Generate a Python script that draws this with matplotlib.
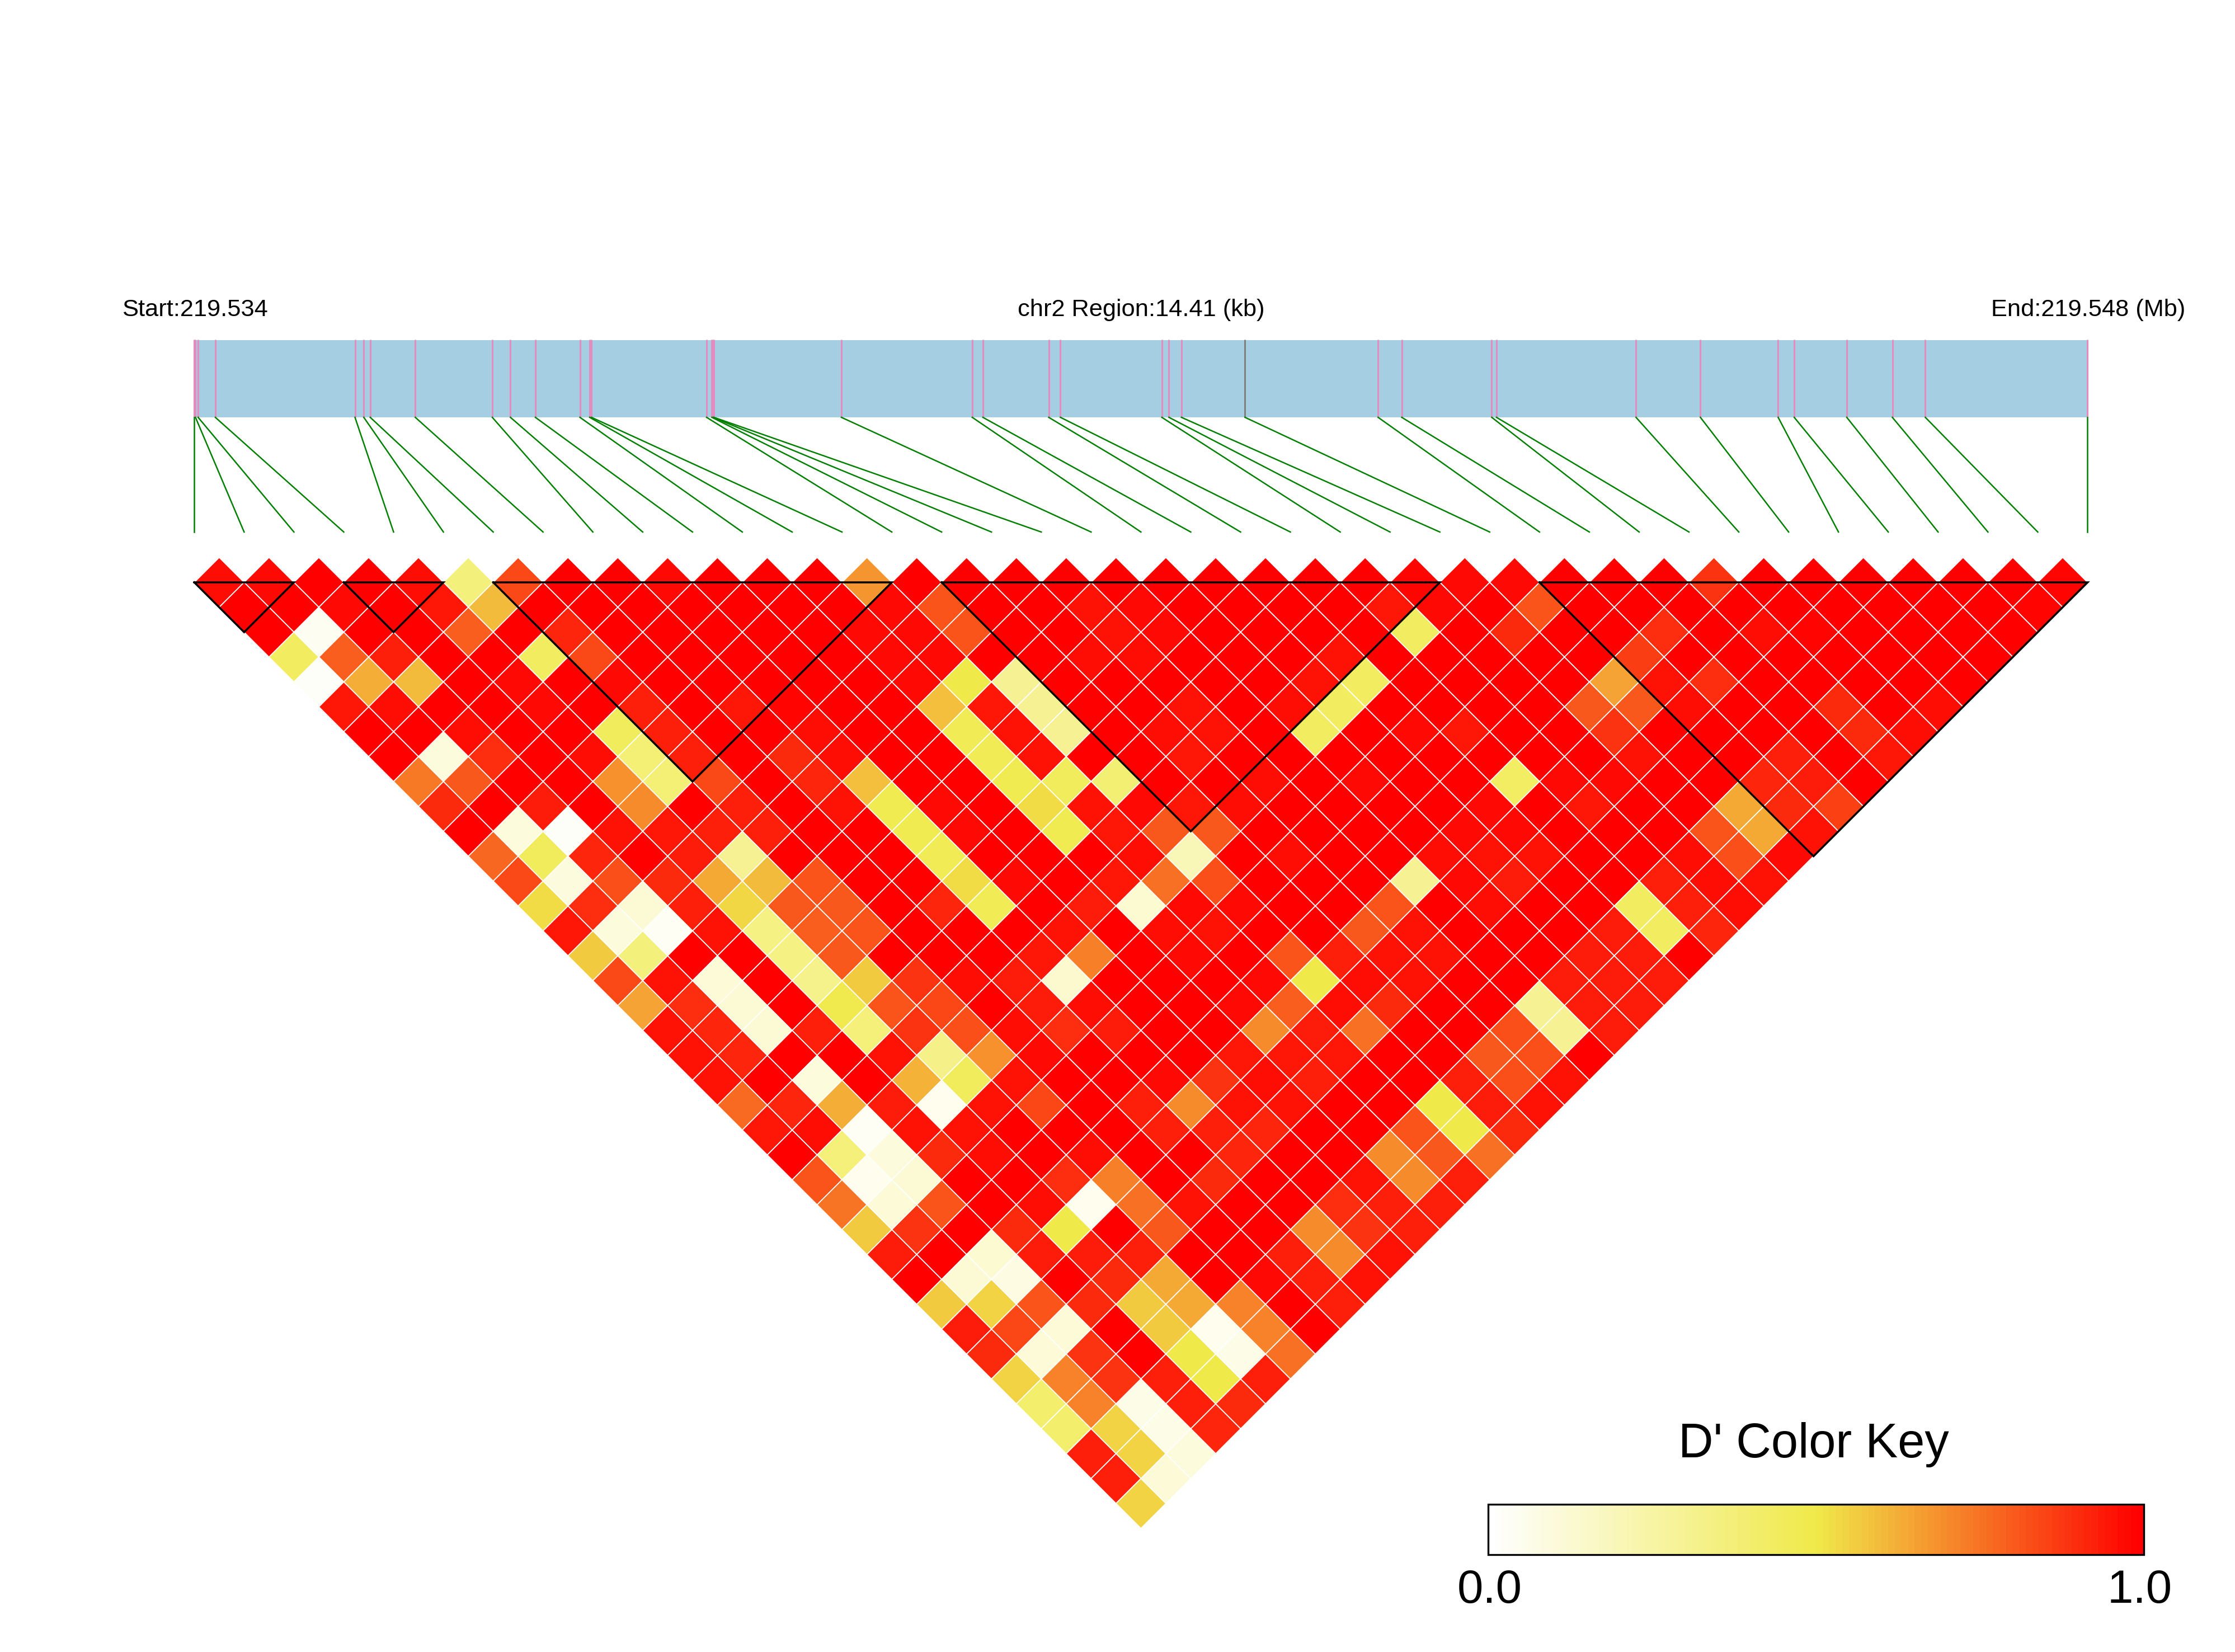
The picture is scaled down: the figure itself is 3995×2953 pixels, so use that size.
### PACKAGES

import numpy as np
import matplotlib
matplotlib.use('Agg')
import matplotlib.pyplot as plt
from matplotlib.collections import PolyCollection
from matplotlib.colors import LinearSegmentedColormap
from matplotlib.patches import Rectangle

plt.rcParams['font.family'] = ['Liberation Sans', 'DejaVu Sans']

### DATA

region_kb = 14.41
start_label = 'Start:219.534'
mid_label = 'chr2 Region:14.41 (kb)'
end_label = 'End:219.548 (Mb)'
key_title = "D' Color Key"
key_ticks = ['0.0', '1.0']

# snp positions in kb from the region start
snp_kb = [0.000, 0.009, 0.029, 0.160, 1.223, 1.290, 1.339, 1.682, 2.268, 2.406,
          2.596, 2.935, 3.009, 3.023, 3.899, 3.939, 3.948, 3.955, 4.925, 5.921,
          6.002, 6.503, 6.592, 7.364, 7.418, 7.513, 7.997, 9.010, 9.190, 9.875,
          9.911, 10.973, 11.463, 12.055, 12.177, 12.577, 12.924, 13.175, 14.410]
grey_snp = 26  # this one is drawn grey in the bar

# haplotype blocks, first and last snp
blocks = [(0, 2), (3, 5), (6, 14), (15, 25), (27, 38)]

# D' values, one list per distance between the two snps
d1 = [.97, .98, 1, 1, .97, .36, .84, 1, 1, .98, 1, 1, 1, .68, 1, 1, 1, 1, 1, 1, 1, 1, 1, 1, .99, .98, .98, 1, 1, 1, .89, 1, 1, 1, 1, 1, 1, .99]
d2 = [1, 1, .98, 1, .95, .6, 1, 1, 1, 1, 1, 1, 1, .98, .82, 1, 1, .96, .98, 1, 1, 1, 1, .95, .98, 1, .82, 1, 1, 1, 1, 1, 1, 1, 1, 1, .99]
d3 = [1, .04, 1, 1, .8, 1, .92, 1, 1, 1, 1, 1, .98, .98, .82, 1, 1, .96, .98, 1, 1, 1, 1, .44, 1, .91, 1, 1, .9, 1, .97, .99, 1, 1, 1, 1]
d4 = [.44, .8, .93, 1, 1, .44, .84, 1, 1, 1, 1, 1, .98, .98, 1, 1, .97, .97, 1, 1, 1, .96, 1, 1, 1, 1, 1, .87, 1, 1, 1, 1, 1, 1, 1]
d5 = [.02, .63, .6, 1, .98, 1, .98, 1, 1, 1, 1, 1, .98, .5, .3, 1, 1, 1, 1, 1, .96, .44, 1, 1, 1, 1, .65, .96, .9, 1, 1, 1, 1, 1]
d6 = [.95, .97, 1, 1, .98, 1, .93, 1, .95, .99, 1, 1, .59, .95, .3, 1, 1, .96, 1, .97, .44, 1, 1, 1, 1, .81, .81, .97, 1, 1, .91, 1, .97]
d7 = [1, 1, .97, 1, 1, .45, .93, 1, 1, .97, 1, 1, .47, .96, .3, 1, .97, .96, 1, .44, 1, .98, .95, 1, 1, .89, 1, 1, 1, 1, .91, .97]
d8 = [1, .1, .9, 1, .97, .38, .93, 1, .91, .97, 1, 1, .47, .96, 1, 1, .95, 1, 1, 1, 1, 1, 1, 1, 1, .96, 1, 1, .93, 1, .95]
d9 = [.74, .81, 1, 1, .69, .38, .84, 1, .92, .59, 1, 1, .48, .45, .39, 1, 1, .97, 1, .98, 1, 1, .43, .98, .98, 1, 1, .92, .94, 1]
d10 = [.91, 1, .94, 1, .7, 1, .93, 1, .96, .48, .98, 1, .53, .96, .98, .95, .97, 1, 1, 1, 1, .98, 1, .95, 1, 1, .64, .91, .86]
d11 = [1, .1, .02, .96, .95, .93, .93, 1, 1, .48, .98, 1, .48, .95, .81, .81, 1, 1, 1, 1, .98, .98, 1, 1, 1, .82, .64, .96]
d12 = [.78, .45, .92, 1, .94, .3, 1, 1, 1, .47, 1, 1, 1, .97, .2, 1, .97, 1, 1, .97, .96, .96, 1, 1, .97, .83, .98]
d13 = [.84, .09, .83, .91, .64, .6, .82, 1, 1, .53, .98, 1, .95, .76, .83, 1, 1, 1, .3, .98, .94, 1, 1, .93, .97, .96]
d14 = [.53, .9, .12, .93, .54, .81, .81, 1, .92, .47, 1, .94, .13, .98, .98, 1, 1, .82, 1, .97, 1, 1, .44, .93, .97]
d15 = [.95, .1, .03, .96, .34, .8, .82, 1, 1, 1, .96, 1, .97, .96, 1, 1, .81, .96, 1, 1, 1, .94, .44, .92]
d16 = [.57, .36, 1, 1, .34, .81, 1, 1, 1, .95, .73, 1, .98, 1, .82, .93, .96, .96, 1, 1, .94, .94, 1]
d17 = [.84, .96, .11, 1, .32, .57, .89, .97, .94, .14, 1, 1, 1, .98, .5, .97, .96, 1, 1, .94, .94, .94]
d18 = [.65, .9, .12, 1, .49, .82, .85, 1, .94, .97, 1, 1, .98, .8, .97, .91, 1, 1, .3, .94, .94]
d19 = [.96, .92, .12, .93, .37, .89, .83, .97, .9, .94, 1, 1, .7, .94, .76, 1, 1, .83, .3, .94]
d20 = [.96, .92, 1, 1, .96, .33, .69, .98, 1, 1, 1, .95, .95, .95, 1, 1, .81, .83, 1]
d21 = [.96, 1, .1, 1, .62, .45, .96, 1, 1, .98, .89, .97, .93, 1, 1, .93, .83, .96]
d22 = [.77, .92, .63, .94, .05, .96, .85, 1, .93, .7, .96, .96, 1, 1, .5, .94, .96]
d23 = [.95, .97, .03, .96, .96, 1, 1, 1, .93, .93, .92, 1, 1, .82, .5, .91]
d24 = [1, .37, .1, .91, .97, 1, .97, 1, 1, .92, 1, 1, .7, .81, .76]
d25 = [.82, .05, .12, 1, 1, .9, .73, 1, .91, 1, 1, .96, .7, .93]
d26 = [.75, .11, .82, 1, .97, .05, .76, .96, 1, 1, .9, .93, .93]
d27 = [.57, .89, 1, .91, .5, 1, .81, 1, 1, .7, .89, .93]
d28 = [.94, 1, .13, .94, .94, .93, 1, 1, .93, .7, .96]
d29 = [1, .12, .08, 1, .91, .64, 1, .98, .93, .96]
d30 = [.57, .55, .82, .91, .57, .64, .72, 1, .93]
d31 = [.94, .85, .11, 1, .57, .05, .72, 1]
d32 = [.91, .11, .89, 1, .5, .07, .76]
d33 = [.55, .72, .89, .93, .5, .93]
d34 = [.41, .72, .07, .93, .91]
d35 = [.41, .55, .07, .92]
d36 = [.93, .55, .1]
d37 = [.93, .11]
d38 = [.55]

ld_rows = [d1, d2, d3, d4, d5, d6, d7, d8, d9, d10, d11, d12, d13, d14, d15, d16, d17, d18, d19,
           d20, d21, d22, d23, d24, d25, d26, d27, d28, d29, d30, d31, d32, d33, d34, d35, d36, d37, d38]

### LAYOUT (in pixels of the output picture)

W, H = 3995, 2953
DPI = 300
LEFT, RIGHT = 347.3, 3731.5
BAR_TOP, BAR_BOT = 607.5, 746
LINK_BOT = 951
BASE_Y = 1041
STEP_Y = 44.5
n_snp = len(snp_kb)
step_x = (RIGHT - LEFT) / (n_snp - 1)

cmap = LinearSegmentedColormap.from_list('dprime', [(0, '#FFFFFF'), (0.5, '#F0EA4A'), (1, '#FF0000')], N=256)

fig = plt.figure(figsize=(W / DPI, H / DPI), dpi=DPI)
ax = fig.add_axes([0, 0, 1, 1])
ax.set_xlim(0, W)
ax.set_ylim(H, 0)
ax.axis('off')

### GENE BAR AND LINKS

ax.add_patch(Rectangle((LEFT, BAR_TOP), RIGHT - LEFT, BAR_BOT - BAR_TOP, fc='#A6CEE3', ec='none', zorder=1))
for i, kb in enumerate(snp_kb):
    x_bar = LEFT + kb / region_kb * (RIGHT - LEFT)
    x_idx = LEFT + i * step_x
    col = '#7F7F7F' if i == grey_snp else '#E48BC0'
    ax.plot([x_bar, x_bar], [BAR_TOP - 1, BAR_BOT], color=col, lw=0.72, solid_capstyle='butt', zorder=2)
    ax.plot([x_bar, x_idx], [BAR_BOT, LINK_BOT], color='#008000', lw=0.6, zorder=2)

### LD TRIANGLE

polys = []
vals = []
for r, row in enumerate(ld_rows, start=1):
    assert len(row) == n_snp - r, r
    for i, v in enumerate(row):
        cx = LEFT + (i + r / 2) * step_x
        cy = BASE_Y + (r - 1) * STEP_Y
        polys.append([(cx - step_x / 2, cy), (cx, cy - STEP_Y), (cx + step_x / 2, cy), (cx, cy + STEP_Y)])
        vals.append(v)
cells = PolyCollection(polys, array=np.array(vals), cmap=cmap, clim=(0, 1), edgecolors='white', linewidths=0.42, zorder=3)
ax.add_collection(cells)

for a, b in blocks:
    xa = LEFT + a * step_x
    xb = LEFT + b * step_x
    ax.plot([xa, xb, (xa + xb) / 2, xa], [BASE_Y, BASE_Y, BASE_Y + (b - a) * STEP_Y, BASE_Y],
            color='black', lw=0.85, solid_joinstyle='miter', zorder=4)

### TEXT

ax.text(LEFT + 1, 565, start_label, fontsize=10.42, ha='center', va='baseline')
ax.text((LEFT + RIGHT) / 2, 565, mid_label, fontsize=10.42, ha='center', va='baseline')
ax.text(RIGHT + 1, 565, end_label, fontsize=10.42, ha='center', va='baseline')

### COLOR KEY

KEY_L, KEY_R, KEY_T, KEY_B = 2660, 3832, 2689, 2779
ax.imshow(np.linspace(0, 1, 100).reshape(1, -1), cmap=cmap, vmin=0, vmax=1, aspect='auto',
          extent=(KEY_L, KEY_R, KEY_B, KEY_T), interpolation='nearest', zorder=3)
ax.add_patch(Rectangle((KEY_L, KEY_T), KEY_R - KEY_L, KEY_B - KEY_T, fc='none', ec='black', lw=0.8, zorder=4))
ax.set_xlim(0, W)
ax.set_ylim(H, 0)
ax.text(3242, 2605, key_title, fontsize=20.8, ha='center', va='baseline')
ax.text(KEY_L + 3, 2865, key_ticks[0], fontsize=20, ha='center', va='baseline')
ax.text(KEY_R - 7, 2865, key_ticks[1], fontsize=20, ha='center', va='baseline')

fig.savefig('out.png', dpi=DPI, facecolor='white')
